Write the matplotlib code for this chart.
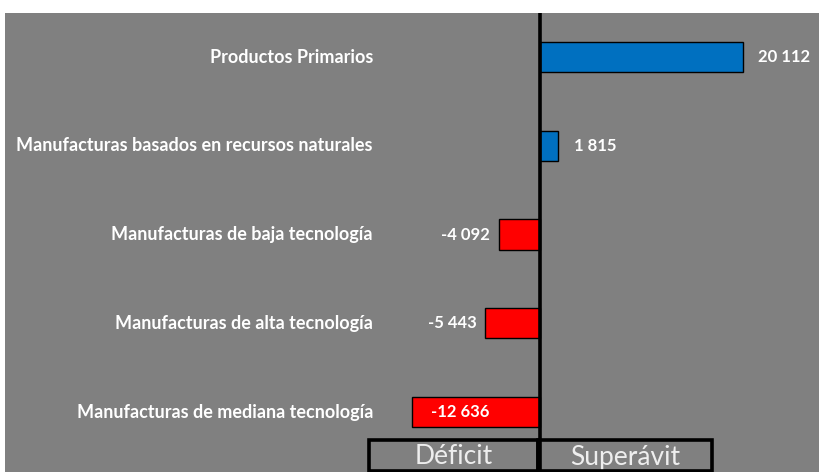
import matplotlib
matplotlib.use("Agg")
import matplotlib.pyplot as plt
from matplotlib.patches import Rectangle

# Saldo comercial por tipo de producto (millones de US$)
categorias = [
    "Productos Primarios",
    "Manufacturas basados en recursos naturales",
    "Manufacturas de baja tecnología",
    "Manufacturas de alta tecnología",
    "Manufacturas de mediana tecnología",
]
saldos = [20112, 1815, -4092, -5443, -12636]
etiquetas = ["20 112", "1 815", "-4 092", "-5 443", "-12 636"]

GRIS = "#808080"
AZUL = "#0070C0"
ROJO = "#FF0000"

plt.rcParams["font.family"] = ["Lato", "DejaVu Sans"]

W, H = 820, 472
fig = plt.figure(figsize=(W / 100, H / 100), dpi=100, facecolor="white")

# gray plot area, leaving a white strip on top
ax_l, ax_r, ax_t, ax_b = 5, 820, 13, 472
ax = fig.add_axes([ax_l / W, 1 - ax_b / H, (ax_r - ax_l) / W, (ax_b - ax_t) / H])
ax.set_facecolor(GRIS)

# horizontal scale: zero at x=540, largest bar reaching x=743
x0 = 540
k = (743 - x0) / max(saldos)
ax.set_xlim((ax_l - x0) / k, (ax_r - x0) / k)

# vertical scale: rows about 89 px apart
paso = 88.75
c0 = 57
ax.set_ylim(4 + (ax_b - (c0 + 4 * paso)) / paso, -(c0 - ax_t) / paso)

y = list(range(len(categorias)))
colores = [AZUL if v > 0 else ROJO for v in saldos]
ax.barh(y, saldos, height=0.34, color=colores, edgecolor="black", linewidth=1.0, zorder=2)
ax.axvline(0, color="black", linewidth=2.6, zorder=3)

for yi, v, txt, cat in zip(y, saldos, etiquetas, categorias):
    ax.text((373 - x0) / k, yi, cat, ha="right", va="center",
            color="white", fontsize=13, fontweight="bold")
    if v > 0:
        ax.annotate(txt, (v, yi), xytext=(11, 0), textcoords="offset points",
                    ha="left", va="center", color="white", fontsize=12, fontweight="bold")
    elif v > -10000:
        ax.annotate(txt, (v, yi), xytext=(-6, 0), textcoords="offset points",
                    ha="right", va="center", color="white", fontsize=12, fontweight="bold")
    else:
        ax.annotate(txt, (v, yi), xytext=(13, 0), textcoords="offset points",
                    ha="left", va="center", color="white", fontsize=12, fontweight="bold")

for s in ax.spines.values():
    s.set_visible(False)
ax.set_xticks([])
ax.set_yticks([])

# Déficit / Superávit boxes along the bottom
cajas = [("Déficit", 369, 538), ("Superávit", 538, 712)]
for txt, xa, xb in cajas:
    r = Rectangle((xa / W, 1 - 471 / H), (xb - xa) / W, 31 / H, transform=fig.transFigure,
                  facecolor="none", edgecolor="black", linewidth=2.6, zorder=5)
    fig.patches.append(r)
    fig.text((xa + xb) / 2 / W, 1 - 457 / H, txt, ha="center", va="center",
             color="#EEEEEE", fontsize=19)

fig.savefig("out.png", dpi=100, facecolor=fig.get_facecolor())
